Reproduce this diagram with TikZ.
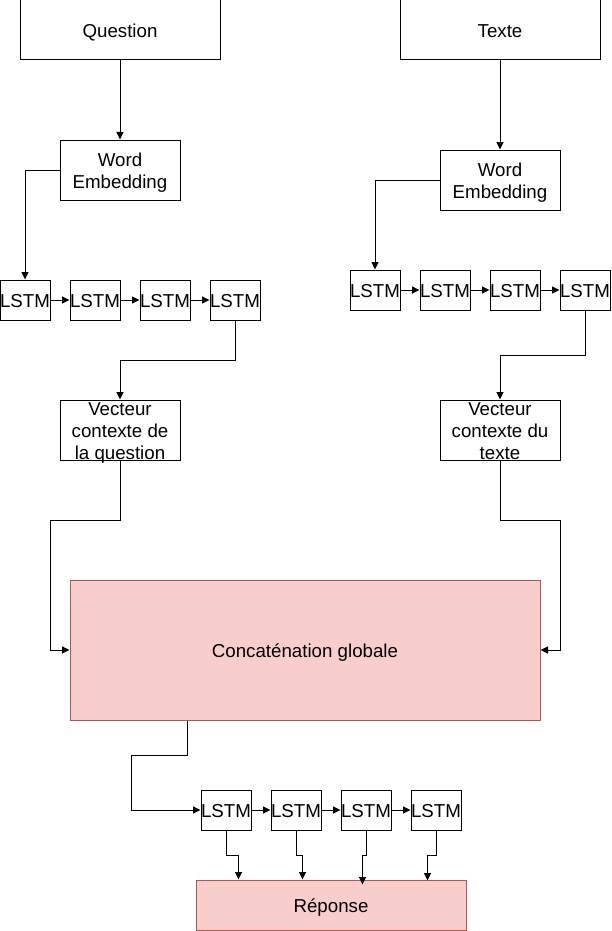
\documentclass[tikz,border=0pt]{standalone}
\usepackage{fontspec}
\setmainfont{Liberation Sans}
\usetikzlibrary{arrows.meta}
\begin{document}
\begin{tikzpicture}[x=1pt,y=-1pt,
  box/.style={draw=black,line width=1pt,fill=white,inner sep=0pt,align=center,
    font=\fontsize{18.7}{22}\selectfont,text depth=0pt,text height=15.4pt},
  two/.style={text height=37.4pt},
  three/.style={text height=59.4pt},
  bigbox/.style={box,minimum width=200pt,minimum height=60pt},
  midbox/.style={box,minimum width=120pt,minimum height=60pt},
  lstmbox/.style={box,minimum width=50pt,minimum height=40pt},
  redbox/.style={box,draw={rgb,255:red,184;green,84;blue,80},fill={rgb,255:red,248;green,206;blue,204}},
  conn/.style={line width=1pt,-{Triangle[length=7.5pt,width=7pt]}}]
\useasboundingbox (0,0) rectangle (611,931);
% top boxes
\node[bigbox] (q) at (120,30) {Question};
\node[bigbox] (t) at (500,30) {Texte};
\node[midbox,two] (we1) at (120,170) {Word\\Embedding};
\node[midbox,two] (we2) at (500,180) {Word\\Embedding};
% left LSTMs
\node[lstmbox] (l1) at (25,300) {LSTM};
\node[lstmbox] (l2) at (95,300) {LSTM};
\node[lstmbox] (l3) at (165,300) {LSTM};
\node[lstmbox] (l4) at (235,300) {LSTM};
% right LSTMs
\node[lstmbox] (r1) at (375,290) {LSTM};
\node[lstmbox] (r2) at (445,290) {LSTM};
\node[lstmbox] (r3) at (515,290) {LSTM};
\node[lstmbox] (r4) at (585,290) {LSTM};
% context vectors
\node[midbox,three] (v1) at (120,430) {Vecteur\\contexte de\\la question};
\node[midbox,three] (v2) at (500,430) {Vecteur\\contexte du\\texte};
% concat
\node[redbox,minimum width=470pt,minimum height=140pt] (c) at (305,650) {Concaténation globale};
% bottom LSTMs
\node[lstmbox] (b1) at (226,810) {LSTM};
\node[lstmbox] (b2) at (296,810) {LSTM};
\node[lstmbox] (b3) at (366,810) {LSTM};
\node[lstmbox] (b4) at (436,810) {LSTM};
\node[redbox,minimum width=270pt,minimum height=50pt] (rep) at (331,905) {Réponse};
% bend coordinates
\coordinate (kl) at (50,520);
\coordinate (kr) at (560,520);
\coordinate (kb) at (131,755);
% connectors
\draw[conn] (q.south) -- (we1.north);
\draw[conn] (t.south) -- (we2.north);
\draw[conn] (we1.west) -| (l1.north);
\draw[conn] (we2.west) -| (r1.north);
\draw[conn] (l1) -- (l2);
\draw[conn] (l2) -- (l3);
\draw[conn] (l3) -- (l4);
\draw[conn] (r1) -- (r2);
\draw[conn] (r2) -- (r3);
\draw[conn] (r3) -- (r4);
\draw[conn] (l4.south) -- ++(0,40) -| (v1.north);
\draw[conn] (r4.south) -- ++(0,45) -| (v2.north);
\draw[conn] (v1.south) |- (kl) |- (c.west);
\draw[conn] (v2.south) |- (kr) |- (c.east);
\draw[conn] ([xshift=118pt]c.south west) |- (kb) |- (b1.west);
\draw[conn] (b1) -- (b2);
\draw[conn] (b2) -- (b3);
\draw[conn] (b3) -- (b4);
\draw[conn] (b1.south) -- ++(0,25) -| ([xshift=43pt]rep.north west);
\draw[conn] (b2.south) -- ++(0,25) -| ([xshift=107pt]rep.north west);
\draw[conn] (b3.south) -- ++(0,25) -| ([xshift=167pt,yshift=-5pt]rep.north west);
\draw[conn] (b4.south) -- ++(0,25) -| ([xshift=232pt,yshift=-1pt]rep.north west);
\end{tikzpicture}
\end{document}
